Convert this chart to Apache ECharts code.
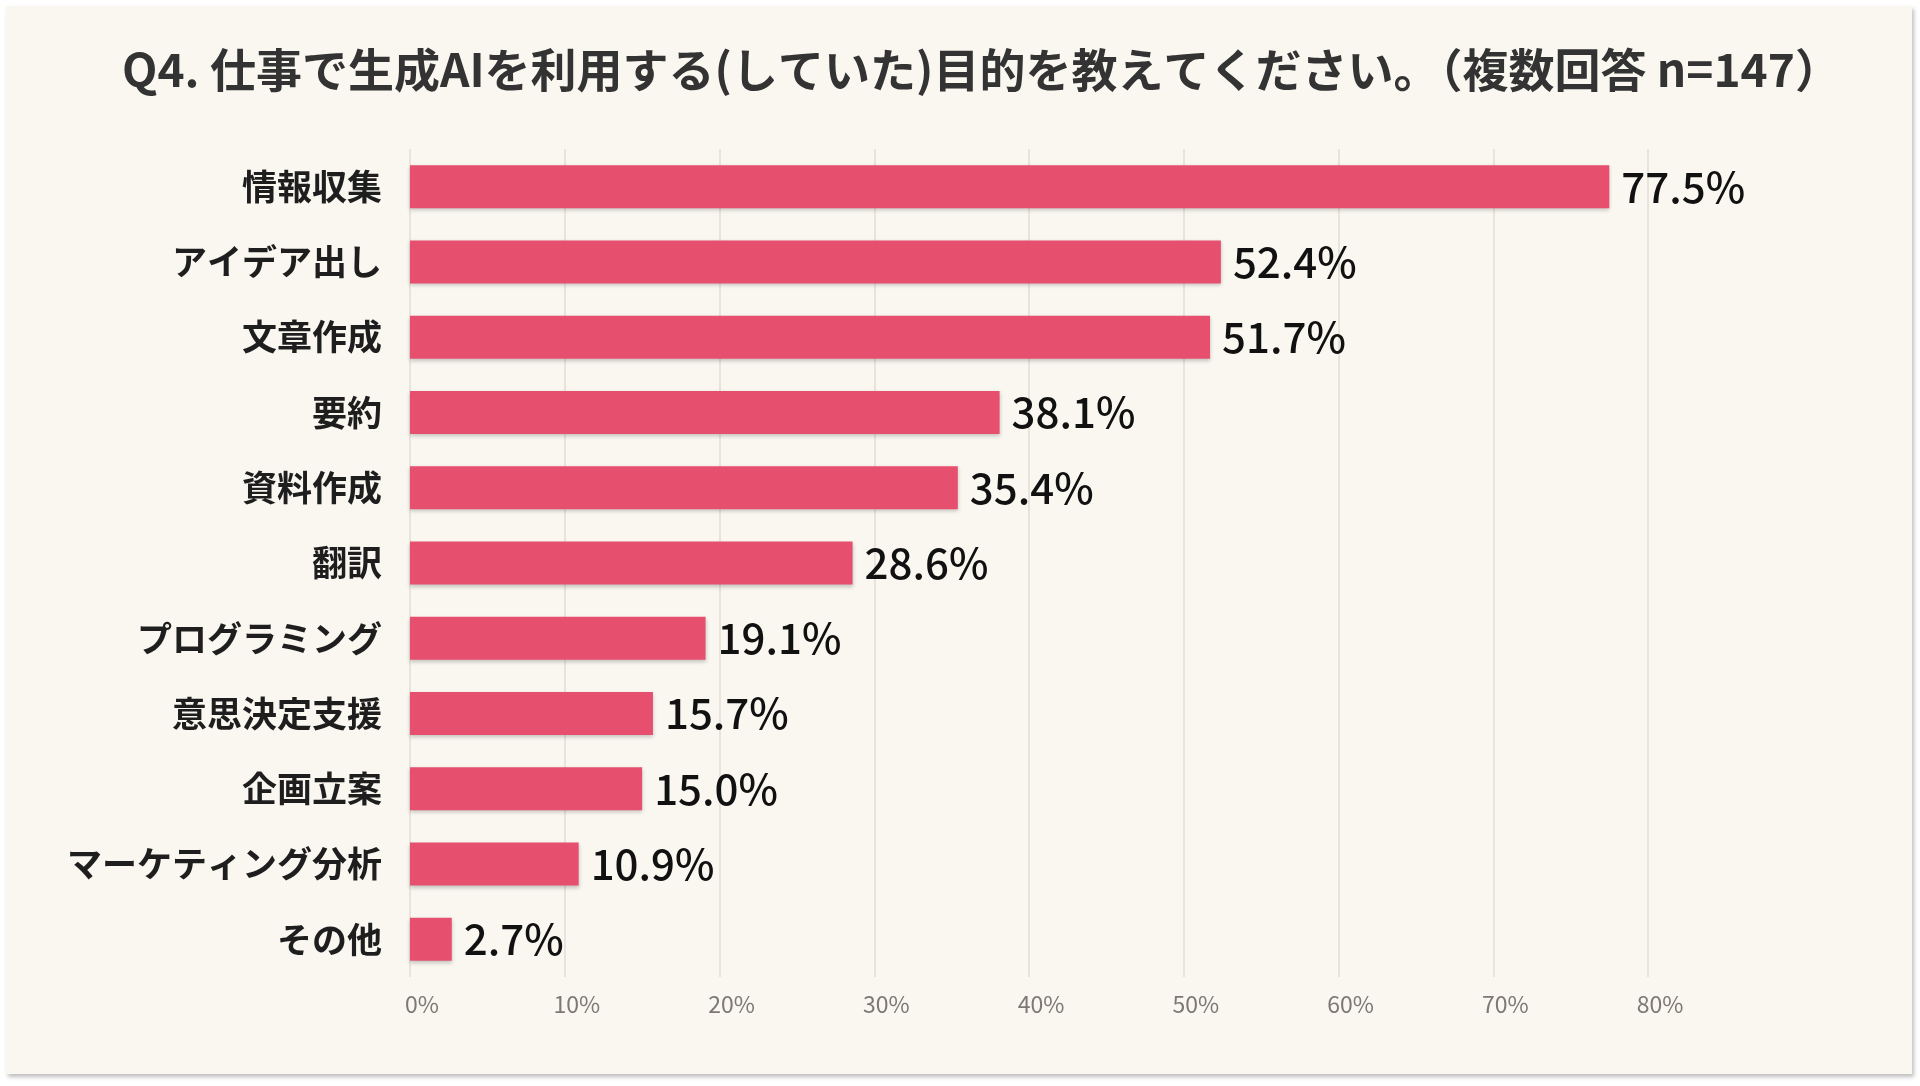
<!DOCTYPE html>
<html style="height: 100%">
<head>
<meta charset="utf-8">
<script src="https://cdn.jsdelivr.net/npm/echarts@6/dist/echarts.min.js"></script>
</head>
<body style="height: 100%; margin: 0; background: #ffffff">
<div id="card" style="position: absolute; left: 6px; top: 6px; width: 1906px; height: 1068px; background: #f9f7f0; box-shadow: 2px 3px 4px rgba(0,0,0,0.25);"></div>
<div id="container" style="position: absolute; left: 0; top: 0; width: 1920px; height: 1086px"></div>
<script type="text/javascript">
var categories = ['情報収集', 'アイデア出し', '文章作成', '要約', '資料作成', '翻訳',
    'プログラミング', '意思決定支援', '企画立案', 'マーケティング分析', 'その他'];
var values = [77.5, 52.4, 51.7, 38.1, 35.4, 28.6, 19.1, 15.7, 15.0, 10.9, 2.7];
var xTicks = [0, 10, 20, 30, 40, 50, 60, 70, 80];
var titleText = 'Q4. 仕事で生成AIを利用する(していた)目的を教えてください。（複数回答 n=147）';

var font = '"Noto Sans CJK JP", "Noto Sans", sans-serif';
var myChart = echarts.init(document.getElementById('container'));

var option = {
    backgroundColor: 'transparent',
    title: {
        text: titleText,
        left: 122,
        top: 47,
        padding: 0,
        textStyle: {
            fontFamily: font,
            fontSize: 46,
            fontWeight: 'bold',
            color: '#333333'
        }
    },
    grid: {
        left: 410,
        right: 272,
        top: 149,
        bottom: 109,
        containLabel: false
    },
    xAxis: {
        type: 'value',
        min: xTicks[0],
        max: xTicks[xTicks.length - 1],
        interval: 10,
        axisLine: { show: false },
        axisTick: { show: false },
        splitLine: {
            show: true,
            lineStyle: { color: '#e8e4dc', width: 2 }
        },
        axisLabel: {
            margin: 16,
            fontFamily: font,
            fontSize: 23,
            color: '#7d7873',
            padding: [0, 0, 0, 24],
            formatter: function (v) { return v + '%'; }
        }
    },
    yAxis: {
        type: 'category',
        inverse: true,
        data: categories,
        axisLine: { show: false },
        axisTick: { show: false },
        axisLabel: {
            margin: 28,
            fontFamily: font,
            fontSize: 35,
            fontWeight: 600,
            color: '#1e1e1e'
        }
    },
    series: [{
        type: 'bar',
        data: values,
        barWidth: 43,
        itemStyle: {
            color: '#e74f6f',
            shadowBlur: 4,
            shadowOffsetY: 2,
            shadowColor: 'rgba(0,0,0,0.22)'
        },
        label: {
            show: true,
            position: 'right',
            distance: 12,
            fontFamily: font,
            fontSize: 42,
            fontWeight: 500,
            color: '#111111',
            formatter: function (p) { return p.value.toFixed(1) + '%'; }
        }
    }]
};
myChart.setOption(option, true);
</script>
</body>
</html>
